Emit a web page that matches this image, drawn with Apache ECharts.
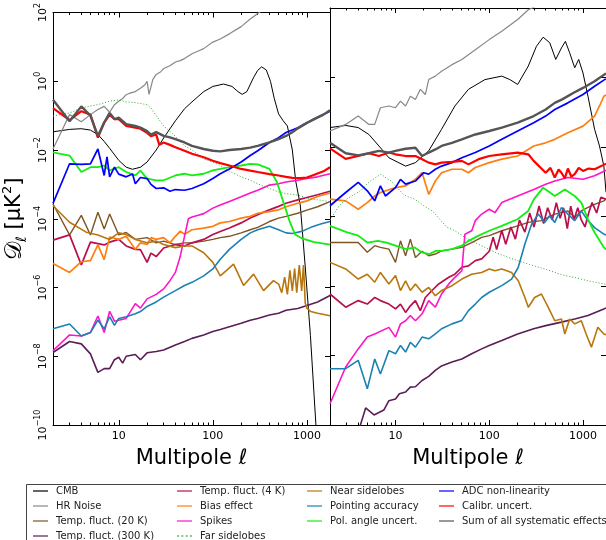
<!DOCTYPE html>
<html><head><meta charset="utf-8">
<script src="https://cdn.jsdelivr.net/npm/echarts@6/dist/echarts.min.js"></script>
<style>html,body{margin:0;padding:0;background:#fff}#c{width:606px;height:540px}</style>
</head><body><div id="c"></div>
<script>
// x: multipole ell ; y: log10 of D_ell in muK^2 (value axis labelled as powers of ten)
const xMajorTicks = [10, 100, 1000];
const xMinorTicks = [2,3,4,5,6,7,8,9,20,30,40,50,60,70,80,90,200,300,400,500,600,700,800,900];

const names = ['CMB','HR Noise','Temp. fluct. (20 K)','Temp. fluct. (300 K)','Temp. fluct. (4 K)','Bias effect','Spikes','Far sidelobes','Near sidelobes','Pointing accuracy','Pol. angle uncert.','ADC non-linearity','Calibr. uncert.','Sum of all systematic effects'];

// ---------------- LEFT PANEL ----------------
const L_cmb = [[2,-1.47],[3,-1.40],[4,-1.38],[5,-1.42],[6,-1.55],[7,-1.75],[8,-1.95],[10,-2.3],[12,-2.5],[14,-2.56],[17,-2.5],[20,-2.35],[25,-2.0],[30,-1.65],[40,-1.15],[50,-0.8],[60,-0.6],[80,-0.3],[100,-0.15],[130,-0.08],[160,-0.15],[185,-0.3],[205,-0.38],[230,-0.3],[270,0.1],[300,0.32],[330,0.42],[370,0.33],[410,0.0],[450,-0.5],[500,-0.95],[560,-1.15],[620,-1.3],[700,-2.0],[760,-2.9],[850,-3.6],[960,-5.4],[1090,-7.4],[1260,-10.2]];
const L_hr = [[2,-1.97],[3,-0.97],[4,-1.18],[5,-0.97],[6,-0.82],[7,-0.73],[8,-0.9],[9,-0.68],[10,-0.58],[11,-0.5],[12,-0.39],[13,-0.35],[15,-0.3],[17,-0.2],[19,-0.1],[20,0.0],[21,-0.38],[23,0.05],[25,0.2],[28,0.28],[30,0.37],[35,0.45],[40,0.56],[45,0.6],[50,0.66],[60,0.8],[70,0.88],[80,0.95],[100,1.14],[120,1.23],[150,1.38],[200,1.59],[250,1.81],[300,1.97],[350,2.1]];
const L_20k = [[2,-3.57],[3,-4.47],[4,-3.9],[5,-4.47],[6,-3.81],[7,-4.3],[8,-3.86],[10,-4.47],[12,-4.4],[15,-4.6],[20,-4.55],[25,-4.7],[30,-4.65],[40,-4.75],[50,-4.7],[60,-4.7],[80,-4.65],[100,-4.6],[120,-4.55],[150,-4.51],[200,-4.41],[250,-4.32],[300,-4.25],[400,-4.08],[500,-3.98],[600,-3.93],[800,-3.84],[1000,-3.75],[1300,-3.65],[1760,-3.5]];
const L_300k = [[2,-7.89],[3,-7.57],[4,-7.64],[5,-7.93],[6,-8.47],[7,-8.36],[8,-8.36],[9,-8.1],[10,-8.03],[11,-8.2],[12,-8.0],[15,-7.95],[17,-8.1],[20,-7.9],[25,-7.86],[30,-7.82],[40,-7.67],[50,-7.57],[60,-7.48],[80,-7.38],[100,-7.28],[120,-7.22],[150,-7.14],[200,-7.04],[250,-6.95],[300,-6.9],[400,-6.8],[500,-6.75],[600,-6.66],[800,-6.61],[1000,-6.52],[1300,-6.42],[1760,-6.23]];
const L_4k = [[2,-4.62],[3,-4.47],[4,-5.34],[5,-4.68],[7,-4.76],[8,-4.68],[10,-4.6],[12,-4.79],[15,-4.89],[17,-4.9],[20,-5.27],[22,-5.0],[25,-5.1],[30,-4.85],[40,-4.75],[50,-4.79],[60,-4.7],[80,-4.6],[100,-4.46],[120,-4.37],[150,-4.27],[200,-4.12],[250,-3.98],[300,-3.88],[400,-3.74],[500,-3.64],[600,-3.55],[800,-3.45],[1000,-3.38],[1300,-3.3],[1760,-3.2]];
const L_bias = [[2,-5.3],[3,-5.56],[4,-5.25],[5,-5.22],[6,-4.76],[7,-5.19],[8,-4.53],[10,-4.6],[12,-4.51],[15,-4.89],[17,-4.7],[20,-4.75],[22,-4.55],[25,-4.6],[30,-4.55],[35,-4.7],[40,-4.51],[45,-4.36],[50,-4.45],[60,-4.32],[80,-4.27],[100,-4.22],[120,-4.12],[150,-4.08],[200,-3.98],[250,-3.93],[300,-3.84],[400,-3.79],[500,-3.74],[600,-3.65],[800,-3.55],[1000,-3.48],[1300,-3.35],[1760,-3.25]];
const L_spikes = [[2,-7.84],[3,-7.38],[4,-7.41],[5,-7.31],[6,-6.83],[7,-7.31],[8,-6.69],[9,-6.98],[10,-6.95],[12,-6.9],[15,-6.47],[17,-6.6],[20,-6.33],[25,-6.2],[30,-6.04],[35,-5.8],[40,-5.56],[45,-5.1],[50,-4.51],[55,-4.0],[60,-3.95],[70,-3.9],[80,-3.85],[100,-3.69],[120,-3.6],[150,-3.5],[200,-3.36],[250,-3.25],[300,-3.17],[400,-3.02],[500,-2.98],[600,-2.93],[800,-2.88],[1000,-2.83],[1300,-2.78],[1760,-2.69]];
const L_far = [[2,-1.01],[3,-0.92],[4,-0.78],[5,-0.72],[6,-0.68],[8,-0.58],[10,-0.54],[12,-0.6],[15,-0.62],[20,-0.68],[22,-0.78],[25,-1.0],[30,-1.3],[40,-1.6],[50,-1.88],[60,-2.0],[80,-2.26],[100,-2.35],[120,-2.45],[150,-2.62],[200,-2.78],[250,-2.88],[300,-2.98],[400,-3.12],[500,-3.22],[600,-3.27],[800,-3.31],[1000,-3.4],[1300,-3.45],[1760,-3.5]];
const L_near = [[2,-3.62],[3,-4.1],[4.5,-4.39],[6,-4.47],[8,-4.6],[10,-4.41],[12,-4.46],[15,-4.6],[20,-4.7],[25,-4.65],[30,-4.75],[40,-4.84],[50,-4.79],[60,-4.79],[80,-4.99],[100,-5.27],[120,-5.66],[140,-5.5],[166,-5.32],[212,-5.94],[271,-5.61],[346,-6.09],[441,-5.8],[500,-5.9],[540,-6.15],[580,-5.7],[620,-6.2],[660,-5.5],[700,-6.1],[740,-5.45],[780,-6.15],[830,-5.35],[880,-6.1],[920,-5.35],[960,-6.45],[1000,-6.6],[1100,-6.7],[1300,-6.75],[1760,-6.82]];
const L_point = [[2,-7.2],[3,-7.06],[4,-7.41],[5,-7.31],[6,-6.95],[7,-7.2],[8,-6.85],[9,-7.1],[10,-6.9],[12,-6.85],[15,-6.76],[17,-6.7],[20,-6.55],[25,-6.42],[30,-6.28],[40,-6.09],[50,-5.94],[60,-5.85],[80,-5.66],[100,-5.46],[120,-5.18],[150,-4.89],[200,-4.6],[250,-4.41],[300,-4.32],[400,-4.22],[500,-4.32],[600,-4.41],[700,-4.43],[900,-4.36],[1100,-4.25],[1400,-4.15],[1760,-4.08]];
const L_pol = [[2,-2.07],[3,-2.16],[4,-2.64],[5,-2.5],[6,-2.5],[7,-2.45],[8,-2.59],[10,-2.5],[12,-2.64],[15,-2.74],[17,-2.6],[20,-2.83],[25,-2.88],[30,-2.88],[40,-2.74],[50,-2.69],[60,-2.74],[80,-2.69],[100,-2.59],[120,-2.55],[150,-2.5],[200,-2.45],[250,-2.4],[300,-2.42],[400,-2.55],[480,-2.93],[560,-3.5],[660,-4.1],[750,-4.46],[900,-4.58],[1200,-4.68],[1760,-4.75]];
const L_adc = [[2,-3.55],[3,-2.40],[4,-2.42],[5,-2.40],[6,-1.97],[7,-2.74],[7.5,-2.2],[8,-2.78],[9,-2.5],[10,-2.7],[12,-2.78],[14,-2.7],[15,-2.98],[17,-2.8],[20,-2.83],[22,-3.0],[25,-3.12],[30,-3.1],[35,-3.2],[40,-3.15],[50,-3.17],[60,-3.12],[80,-2.98],[100,-2.83],[120,-2.69],[150,-2.55],[200,-2.35],[250,-2.16],[300,-2.02],[400,-1.78],[500,-1.64],[600,-1.49],[800,-1.35],[1000,-1.21],[1200,-1.09],[1760,-0.87]];
const L_calib = [[2,-0.78],[3,-1.13],[4,-0.87],[5,-0.97],[6,-1.64],[7,-1.2],[8,-0.97],[9,-1.1],[10,-1.1],[12,-1.3],[15,-1.35],[17,-1.38],[20,-1.5],[22,-1.6],[25,-1.55],[27,-1.85],[30,-1.78],[35,-1.85],[40,-1.92],[50,-2.02],[60,-2.11],[80,-2.21],[100,-2.31],[120,-2.38],[150,-2.45],[200,-2.55],[250,-2.6],[300,-2.64],[400,-2.7],[500,-2.74],[600,-2.78],[700,-2.81],[850,-2.82],[1000,-2.8],[1200,-2.72],[1500,-2.62],[1760,-2.5]];
const L_sum = [[2,-0.54],[3,-1.16],[4,-0.73],[5,-1.0],[6,-1.59],[7,-1.2],[8,-0.92],[9,-1.1],[10,-1.06],[12,-1.25],[15,-1.3],[17,-1.35],[20,-1.45],[22,-1.55],[25,-1.48],[30,-1.59],[35,-1.63],[40,-1.68],[50,-1.78],[60,-1.88],[80,-1.97],[100,-2.02],[120,-2.04],[150,-2.0],[200,-1.97],[250,-1.93],[300,-1.88],[400,-1.78],[500,-1.68],[600,-1.59],[700,-1.48],[800,-1.37],[1000,-1.21],[1200,-1.1],[1500,-0.97],[1760,-0.84]];

// ---------------- RIGHT PANEL ----------------
const R_cmb = [[2,-1.44],[2.94,-1.38],[4,-1.44],[5.2,-1.64],[6.65,-1.97],[8.5,-2.31],[12.8,-2.55],[16.3,-2.45],[22.6,-2.11],[31,-1.49],[43,-0.82],[60,-0.34],[90,-0.06],[136,0.04],[166,-0.06],[201,-0.2],[261,0.33],[319,0.9],[376,1.16],[442,1.0],[512,0.52],[589,0.85],[649,1.04],[721,0.71],[816,0.28],[900,0.52],[1000,0.13],[1130,-0.54],[1330,-1.49],[1500,-1.97],[1670,-2.55],[1760,-3.3]];
const R_hr = [[2,-1.54],[2.94,-1.35],[4,-1.11],[5.2,-1.35],[6,-1.35],[6.9,-0.87],[8.5,-0.82],[10,-0.87],[11.3,-0.68],[12.8,-0.82],[14.4,-0.54],[16.3,-0.63],[18.4,-0.34],[20.8,-0.49],[22.6,-0.06],[26.6,0.04],[31,0.18],[40,0.37],[51,0.52],[71,0.8],[100,1.09],[136,1.33],[201,1.67],[261,1.95],[287,2.0],[350,2.12]];
const R_20k = [[2,-4.75],[2.94,-4.75],[4,-4.75],[5,-5.03],[6,-4.84],[6.9,-4.89],[8.5,-4.94],[10,-5.32],[11.3,-4.7],[12.8,-5.13],[14.4,-4.65],[16.3,-5.18],[19.2,-5.0],[22.6,-5.13],[26.6,-5.08],[31,-4.99],[40,-4.94],[51,-4.89],[65,-4.75],[83,-4.6],[100,-4.55],[136,-4.41],[201,-4.27],[261,-4.17],[360,-4.12],[500,-3.93],[690,-3.84],[816,-4.03],[960,-3.84],[1130,-3.74],[1330,-3.65],[1670,-3.55],[1760,-3.5]];
const R_300k = [[3.8,-10.4],[4.8,-9.51],[5.9,-9.71],[7.5,-9.57],[8.5,-9.3],[10,-9.25],[11,-9.1],[12.8,-9.05],[14.4,-8.91],[16.3,-8.9],[19.2,-8.72],[22.6,-8.6],[26.6,-8.43],[31,-8.3],[40,-8.19],[51,-8.1],[65,-7.95],[83,-7.81],[100,-7.71],[136,-7.57],[201,-7.38],[298,-7.23],[400,-7.14],[589,-7.04],[816,-6.95],[1130,-6.85],[1670,-6.66],[1760,-6.63]];
const R_4k = [[2,-6.23],[2.94,-6.61],[4,-6.42],[5,-6.52],[6,-6.33],[6.9,-6.42],[8.5,-6.52],[10,-6.66],[11.3,-6.52],[12.8,-6.76],[14.4,-6.57],[16.3,-6.42],[18.4,-6.71],[20.8,-6.33],[24.5,-6.13],[28.9,-5.94],[37,-5.75],[43,-5.66],[51,-5.46],[60,-5.42],[71,-5.27],[83,-5.22],[100,-5.0],[110,-4.6],[120,-4.95],[136,-4.4],[150,-4.8],[170,-4.3],[190,-4.65],[210,-4.1],[240,-4.45],[270,-3.9],[300,-4.3],[340,-3.7],[380,-4.2],[420,-3.75],[470,-4.1],[520,-3.6],[570,-4.05],[620,-3.75],[680,-4.35],[740,-3.7],[800,-4.1],[880,-3.75],[960,-4.1],[1050,-4.3],[1150,-3.9],[1250,-3.6],[1400,-3.9],[1550,-3.45],[1760,-3.5]];
const R_bias = [[2,-3.5],[2.94,-3.55],[4,-3.79],[5,-3.6],[6,-3.41],[6.9,-3.31],[10,-3.17],[12.8,-3.12],[16.3,-2.93],[19.2,-2.74],[22.6,-3.36],[26.6,-2.98],[31,-2.74],[40,-2.64],[51,-2.64],[60,-2.74],[71,-2.59],[100,-2.45],[136,-2.35],[201,-2.26],[298,-1.97],[400,-1.88],[500,-1.78],[690,-1.59],[1000,-1.4],[1330,-1.11],[1500,-0.82],[1670,-0.54],[1760,-0.5]];
const R_spikes = [[2,-9.39],[2.94,-8.33],[4,-7.81],[5,-7.47],[6,-7.38],[8.5,-7.19],[10,-7.47],[11.3,-7.09],[12.8,-7.0],[14.4,-6.85],[16.3,-7.0],[19.2,-6.8],[22.6,-6.42],[26.6,-6.61],[31,-6.23],[37,-5.94],[43,-5.75],[51,-5.56],[55,-4.51],[65,-4.41],[71,-4.12],[83,-3.93],[100,-3.79],[115,-3.89],[136,-3.6],[201,-3.41],[298,-3.22],[400,-3.07],[500,-2.98],[690,-2.88],[1000,-2.93],[1330,-2.83],[1700,-2.69],[1760,-2.67]];
const R_far = [[2,-4.1],[2.5,-3.69],[3,-3.5],[4,-3.3],[4.4,-3.22],[5,-3.05],[6,-2.9],[7,-2.78],[8,-2.9],[9,-2.98],[10,-3.12],[12,-3.35],[13,-3.41],[16,-3.5],[20,-3.69],[25,-3.85],[29,-4.05],[35,-4.3],[43,-4.41],[55,-4.6],[70,-4.75],[90,-4.89],[120,-5.05],[150,-5.15],[200,-5.27],[300,-5.42],[390,-5.51],[600,-5.68],[800,-5.75],[1130,-5.85],[1760,-5.95]];
const R_near = [[2,-5.32],[2.94,-5.51],[4,-5.8],[5,-5.66],[6,-5.89],[6.9,-5.61],[8.5,-5.94],[10,-5.7],[11.3,-6.13],[12.8,-5.85],[14.4,-6.13],[16.3,-5.94],[19.2,-6.18],[22.6,-6.04],[26.6,-6.28],[31,-6.13],[40,-5.99],[51,-5.8],[65,-5.66],[83,-5.61],[100,-5.51],[115,-5.56],[136,-5.51],[173,-5.61],[204,-5.85],[240,-6.33],[261,-6.61],[305,-6.33],[360,-6.23],[425,-6.61],[500,-7.0],[589,-6.95],[640,-7.38],[721,-6.95],[816,-7.09],[960,-7.0],[1080,-7.38],[1230,-7.76],[1440,-7.19],[1670,-7.38],[1760,-7.4]];
const R_point = [[2,-8.38],[2.94,-8.38],[4,-8.14],[5,-8.96],[6,-8.1],[6.9,-8.53],[8.5,-7.86],[10,-7.95],[11.3,-7.71],[12.8,-7.9],[14.4,-7.62],[16.3,-7.76],[19.2,-7.47],[22.6,-7.52],[26.6,-7.38],[31,-7.23],[40,-7.09],[51,-6.99],[60,-6.71],[71,-6.52],[83,-6.33],[100,-6.18],[136,-5.99],[173,-5.8],[204,-5.46],[240,-4.79],[283,-4.22],[333,-3.93],[392,-4.17],[440,-3.98],[500,-4.17],[589,-3.74],[690,-3.93],[816,-4.12],[960,-3.84],[1130,-4.12],[1330,-4.32],[1670,-4.51],[1760,-4.53]];
const R_pol = [[2,-4.27],[3,-4.45],[4,-4.55],[5,-4.75],[6.5,-4.7],[8,-4.75],[10,-4.84],[13,-4.94],[16,-4.89],[19,-5.03],[23,-5.08],[27,-4.99],[31,-4.99],[40,-4.94],[51,-4.84],[60,-4.7],[77,-4.55],[100,-4.41],[136,-4.27],[200,-4.08],[260,-3.84],[300,-3.5],[376,-3.17],[440,-3.3],[500,-3.41],[640,-3.22],[816,-3.41],[960,-3.6],[1130,-4.08],[1330,-4.46],[1670,-4.89],[1760,-4.95]];
const R_adc = [[2,-3.69],[2.94,-3.31],[4,-3.02],[5,-3.26],[6,-3.55],[6.9,-3.12],[7.8,-3.41],[10,-3.17],[11.3,-2.93],[12.8,-3.07],[16.3,-2.98],[20,-2.74],[22.6,-2.78],[26.6,-2.64],[31,-2.55],[40,-2.45],[51,-2.31],[71,-2.16],[100,-1.97],[136,-1.78],[201,-1.54],[298,-1.3],[400,-1.11],[500,-0.92],[690,-0.73],[1000,-0.49],[1330,-0.25],[1700,-0.06],[1760,-0.04]];
const R_calib = [[2,-2.04],[2.94,-2.34],[4,-2.26],[5.2,-2.18],[6.65,-2.26],[8.5,-2.16],[10,-2.21],[12.8,-2.26],[16.3,-2.26],[19.2,-2.35],[22.6,-2.45],[26.6,-2.5],[31,-2.45],[40,-2.43],[51,-2.4],[60,-2.5],[77,-2.35],[100,-2.26],[136,-2.21],[201,-2.16],[261,-2.21],[298,-2.4],[400,-2.74],[450,-2.6],[500,-2.88],[550,-2.65],[589,-2.74],[640,-2.9],[690,-2.62],[750,-2.85],[816,-2.78],[900,-2.6],[1000,-2.69],[1150,-2.62],[1330,-2.64],[1700,-2.5],[1760,-2.48]];
const R_sum = [[2,-1.88],[2.94,-2.18],[4,-2.24],[5.2,-2.18],[6.65,-2.11],[8.5,-2.16],[10,-2.11],[12.8,-2.05],[16.3,-2.02],[19.2,-2.26],[22.6,-2.16],[26.6,-2.07],[31,-1.97],[40,-1.88],[51,-1.78],[71,-1.64],[100,-1.54],[136,-1.44],[201,-1.3],[298,-1.11],[400,-0.92],[500,-0.73],[600,-0.63],[795,-0.44],[1000,-0.3],[1330,-0.11],[1700,0.09],[1760,0.11]];

// ---------------- styles ----------------
const FONT = 'DejaVu Sans';
const lineColors = ['#000000','#888888','#7d5424','#5a1d58','#b8104c','#ff7f0e','#ff14c8','#2eaa2e','#b8760f','#1a82b2','#11ee11','#0000ff','#ff0000','#555555'];
const lineWidths = [1, 1.2, 1.4, 1.6, 1.7, 1.7, 1.6, 1, 1.6, 1.6, 1.8, 1.7, 2.2, 2.4];
const lineTypes = ['solid','solid','solid','solid','solid','solid','solid',[1,2],'solid','solid','solid','solid','solid','solid'];
const DOTTED_ICON = 'path://M0,0h2v2h-2z M4.3,0h2v2h-2z M8.6,0h2v2h-2z M12.9,0h2v2h-2z';

const leftSets = [L_cmb,L_hr,L_20k,L_300k,L_4k,L_bias,L_spikes,L_far,L_near,L_point,L_pol,L_adc,L_calib,L_sum];
const rightSets = [R_cmb,R_hr,R_20k,R_300k,R_4k,R_bias,R_spikes,R_far,R_near,R_point,R_pol,R_adc,R_calib,R_sum];

function makeSeries(sets, xi, yi) {
  return sets.map((d, i) => ({
    type: 'line', name: names[i], xAxisIndex: xi, yAxisIndex: yi, data: d,
    symbol: 'none', showSymbol: false, silent: true, clip: true, animation: false,
    lineStyle: { color: lineColors[i], width: lineWidths[i], type: lineTypes[i] },
    itemStyle: { color: lineColors[i] }
  }));
}

const X_MIN = 2, X_MAX = 1760;
function xAxesFor(g) {
  const base = { gridIndex: g, type: 'log', logBase: 10, min: X_MIN, max: X_MAX, splitLine: { show: false } };
  const tickStyle = { color: '#000', width: 1 };
  return [
    Object.assign({}, base, { position: 'bottom',
      axisLine: { show: true, onZero: false, lineStyle: { color: '#000', width: 1 } },
      axisTick: { show: true, inside: true, length: 5, customValues: xMajorTicks, lineStyle: tickStyle },
      axisLabel: { show: true, customValues: xMajorTicks, formatter: v => String(Math.round(v)), fontSize: 11, color: '#000', fontFamily: FONT, margin: 6 },
      name: 'Multipole ℓ', nameLocation: 'middle', nameGap: 23,
      nameTextStyle: { fontSize: 21, color: '#000', fontFamily: FONT } }),
    Object.assign({}, base, { position: 'bottom', axisLine: { show: false, onZero: false },
      axisTick: { show: true, inside: true, length: 2.5, customValues: xMinorTicks, lineStyle: tickStyle },
      axisLabel: { show: false } }),
    Object.assign({}, base, { position: 'top',
      axisLine: { show: true, onZero: false, lineStyle: { color: '#000', width: 1 } },
      axisTick: { show: true, inside: true, length: 5, customValues: xMajorTicks, lineStyle: tickStyle },
      axisLabel: { show: false } }),
    Object.assign({}, base, { position: 'top', axisLine: { show: false, onZero: false },
      axisTick: { show: true, inside: true, length: 2.5, customValues: xMinorTicks, lineStyle: tickStyle },
      axisLabel: { show: false } })
  ];
}
function yAxisFor(g, pos, labels) {
  const ax = { gridIndex: g, type: 'value', position: pos, min: -10, max: 2, interval: 2,
    splitLine: { show: false },
    axisLine: { show: true, onZero: false, lineStyle: { color: '#000', width: 1 } },
    axisTick: { show: true, inside: true, length: 5, lineStyle: { color: '#000' } },
    axisLabel: { show: false } };
  if (labels) {
    ax.axisLabel = { show: true, rotate: 90, margin: 4,
      formatter: v => '{b|10}{s|' + (v < 0 ? '\u2212' + Math.abs(v) : String(v)) + '}',
      rich: { b: { fontSize: 11, fontFamily: FONT, color: '#000', verticalAlign: 'bottom', lineHeight: 15 },
              s: { fontSize: 8, fontFamily: FONT, color: '#000', verticalAlign: 'top', lineHeight: 15 } } };
    ax.name = '{d|\uD835\uDC9F}{l|ℓ} [μK{s|2}]';
    ax.nameLocation = 'middle'; ax.nameRotate = 90; ax.nameGap = 24;
    ax.nameTextStyle = { fontSize: 21, fontFamily: FONT, color: '#000', lineHeight: 28,
      rich: { d: { fontSize: 23, fontFamily: FONT, color: '#000', lineHeight: 28, verticalAlign: 'middle' },
              l: { fontSize: 14, fontFamily: FONT, color: '#000', lineHeight: 28, verticalAlign: 'bottom' },
              s: { fontSize: 13, fontFamily: FONT, color: '#000', lineHeight: 28, verticalAlign: 'top' } } };
  }
  return ax;
}

function legendItems(from, to) {
  return names.slice(from, to).map(n => n === 'Far sidelobes' ? { name: n, icon: DOTTED_ICON } : { name: n });
}
const legendCommon = { orient: 'vertical', top: 485, height: 80, itemWidth: 15, itemHeight: 2, itemGap: 3, padding: 0,
  selectedMode: false, icon: 'rect',
  itemStyle: { opacity: 0.6 },
  textStyle: { fontSize: 10, fontFamily: FONT, color: '#222', lineHeight: 12, padding: [0, 0, 0, 3] } };

const option = {
  animation: false,
  backgroundColor: '#fff',
  grid: [
    { left: 53, top: 8, width: 277, height: 417, containLabel: false },
    { left: 330, top: 8, width: 277, height: 417, containLabel: false }
  ],
  xAxis: xAxesFor(0).concat(xAxesFor(1)),
  yAxis: [yAxisFor(0, 'left', true), yAxisFor(0, 'right', false), yAxisFor(1, 'left', false), yAxisFor(1, 'right', false)],
  legend: [
    Object.assign({}, legendCommon, { left: 33, data: legendItems(0, 4) }),
    Object.assign({}, legendCommon, { left: 177, data: legendItems(4, 8) }),
    Object.assign({}, legendCommon, { left: 307, data: legendItems(8, 11) }),
    Object.assign({}, legendCommon, { left: 439, data: legendItems(11, 14) })
  ],
  graphic: [
    { type: 'rect', silent: true, z: -1, shape: { x: 26.5, y: 484.5, width: 600, height: 80 },
      style: { fill: '#fff', stroke: '#444', lineWidth: 1 } }
  ],
  series: makeSeries(leftSets, 0, 0).concat(makeSeries(rightSets, 4, 2))
};

const chart = echarts.init(document.getElementById('c'), null, { renderer: 'canvas' });
chart.setOption(option);
</script></body></html>
